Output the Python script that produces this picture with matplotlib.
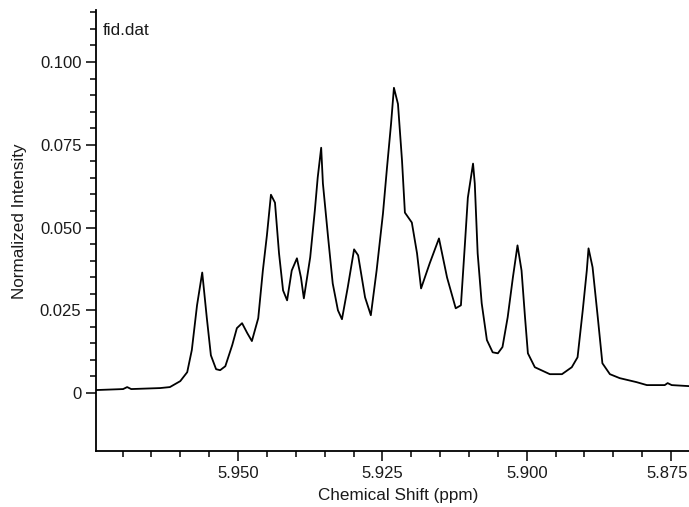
import numpy as np
import matplotlib.pyplot as plt
import matplotlib.transforms as mtransforms
from matplotlib.ticker import FixedLocator, FuncFormatter

plt.rcParams['font.family'] = ['Liberation Sans', 'DejaVu Sans']

# chemical shift (ppm) and normalized intensity of the spectrum trace
ppm = [5.9746, 5.9699, 5.9692, 5.9685, 5.9635, 5.9618, 5.9600, 5.9588, 5.9580,
       5.9571, 5.9562, 5.9554, 5.9547, 5.9538, 5.9531, 5.9522, 5.9510, 5.9502,
       5.9493, 5.9484, 5.9476, 5.9465, 5.9457, 5.9450, 5.9443, 5.9436, 5.9429,
       5.9422, 5.9415, 5.9407, 5.9398, 5.9391, 5.9386, 5.9375, 5.9367, 5.9362,
       5.9356, 5.9353, 5.9344, 5.9336, 5.9327, 5.9320, 5.9310, 5.9299, 5.9292,
       5.9280, 5.9270, 5.9260, 5.9249, 5.9242, 5.9235, 5.9230, 5.9223, 5.9216,
       5.9211, 5.9199, 5.9190, 5.9183, 5.9168, 5.9152, 5.9138, 5.9123, 5.9114,
       5.9107, 5.9102, 5.9093, 5.9090, 5.9085, 5.9078, 5.9069, 5.9059, 5.9050,
       5.9042, 5.9033, 5.9024, 5.9016, 5.9009, 5.9003, 5.8998, 5.8986, 5.8960,
       5.8939, 5.8922, 5.8912, 5.8903, 5.8896, 5.8893, 5.8886, 5.8877, 5.8869,
       5.8856, 5.8839, 5.8810, 5.8792, 5.8761, 5.8756, 5.8749, 5.8720]
intensity = [0.0009, 0.0012, 0.0018, 0.0012, 0.0015, 0.0018, 0.0036, 0.0063, 0.0130,
             0.0265, 0.0364, 0.0226, 0.0114, 0.0072, 0.0069, 0.0081, 0.0145, 0.0196,
             0.0211, 0.0181, 0.0157, 0.0226, 0.0370, 0.0476, 0.0599, 0.0575, 0.0422,
             0.0310, 0.0280, 0.0370, 0.0407, 0.0349, 0.0286, 0.0410, 0.0551, 0.0651,
             0.0741, 0.0633, 0.0470, 0.0331, 0.0250, 0.0223, 0.0319, 0.0434, 0.0416,
             0.0289, 0.0235, 0.0370, 0.0542, 0.0681, 0.0813, 0.0922, 0.0873, 0.0702,
             0.0545, 0.0515, 0.0422, 0.0316, 0.0392, 0.0467, 0.0349, 0.0256, 0.0265,
             0.0452, 0.0590, 0.0693, 0.0633, 0.0422, 0.0271, 0.0160, 0.0123, 0.0120,
             0.0139, 0.0229, 0.0349, 0.0446, 0.0370, 0.0229, 0.0120, 0.0078, 0.0057,
             0.0057, 0.0078, 0.0108, 0.0250, 0.0370, 0.0437, 0.0380, 0.0229, 0.0090,
             0.0057, 0.0045, 0.0033, 0.0024, 0.0024, 0.0030, 0.0024, 0.0021]

x_major = [5.950, 5.925, 5.900, 5.875]
y_major = [0.0, 0.025, 0.050, 0.075, 0.100]

fig = plt.figure(figsize=(6.89, 5.07), dpi=100)
ax = fig.add_axes([0.1393, 0.1105, 0.8607, 0.8698])

ax.plot(ppm, intensity, color='black', linewidth=1.3)

ax.set_xlim(5.9746, 5.8719)
ax.set_ylim(-0.0175, 0.1157)

for side in ['top', 'right']:
    ax.spines[side].set_visible(False)
for side in ['left', 'bottom']:
    ax.spines[side].set_linewidth(1.3)

ax.xaxis.set_major_locator(FixedLocator(x_major))
ax.xaxis.set_minor_locator(FixedLocator(np.arange(5.870, 5.9751, 0.005)))
ax.xaxis.set_major_formatter(FuncFormatter(lambda v, p: '%.3f' % v))
ax.yaxis.set_major_locator(FixedLocator(y_major))
ax.yaxis.set_minor_locator(FixedLocator(np.arange(0.0, 0.1151, 0.005)))
ax.yaxis.set_major_formatter(FuncFormatter(lambda v, p: '0' if abs(v) < 1e-9 else '%.3f' % v))

ax.tick_params(which='major', length=7, width=1.1, labelsize=12,
               labelcolor='#1a1a1a', pad=3.5)
ax.tick_params(which='minor', length=4.5, width=1.1)

# last x label sits at the right edge; nudge it left so it stays inside
fig.canvas.draw()
last = ax.get_xticklabels()[-1]
last.set_transform(last.get_transform() +
                   mtransforms.ScaledTranslation(-4 / 100, 0, fig.dpi_scale_trans))

ax.set_xlabel('Chemical Shift (ppm)', fontsize=12.3, color='#1a1a1a')
ax.xaxis.set_label_coords(0.51, -0.102)
ax.xaxis.label.set_verticalalignment('center')
ax.set_ylabel('Normalized Intensity', fontsize=12.3, color='#1a1a1a')
ax.yaxis.set_label_coords(-0.129, 0.52)
ax.yaxis.label.set_verticalalignment('center')

ax.text(0.011, 0.953, 'fid.dat', transform=ax.transAxes, fontsize=12.3,
        color='#1a1a1a', va='center', ha='left')

fig.savefig('out.png', dpi=100)
